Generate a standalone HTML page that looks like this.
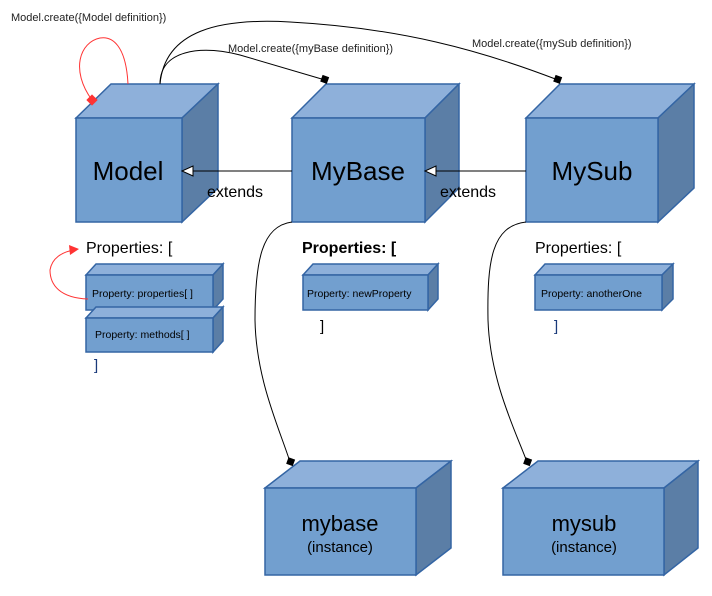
<!DOCTYPE html>
<html><head><meta charset="utf-8"><style>body{margin:0;background:#fff}svg{display:block}text{font-family:"Liberation Sans",sans-serif}</style></head><body>
<svg width="712" height="596" viewBox="0 0 712 596" xmlns="http://www.w3.org/2000/svg">
<g stroke="#3465a4" stroke-width="1.5" stroke-linejoin="miter">
<polygon points="76,118 111,84 218,84 182,118" fill="#8eb0da"/>
<polygon points="182,118 218,84 218,188 182,222" fill="#5b7ea6"/>
<rect x="76" y="118" width="106" height="104" fill="#729fcf"/>
<polygon points="292,118 326,84 459,84 425,118" fill="#8eb0da"/>
<polygon points="425,118 459,84 459,188 425,222" fill="#5b7ea6"/>
<rect x="292" y="118" width="133" height="104" fill="#729fcf"/>
<polygon points="526,118 560,84 694,84 658,118" fill="#8eb0da"/>
<polygon points="658,118 694,84 694,188 658,222" fill="#5b7ea6"/>
<rect x="526" y="118" width="132" height="104" fill="#729fcf"/>
<polygon points="265,488 300,461 451,461 416,488" fill="#8eb0da"/>
<polygon points="416,488 451,461 451,548 416,575" fill="#5b7ea6"/>
<rect x="265" y="488" width="151" height="87" fill="#729fcf"/>
<polygon points="503,488 538,461 698,461 664,488" fill="#8eb0da"/>
<polygon points="664,488 698,461 698,548 664,575" fill="#5b7ea6"/>
<rect x="503" y="488" width="161" height="87" fill="#729fcf"/>
<polygon points="86,275 96,264 223,264 213,275" fill="#8eb0da"/>
<polygon points="213,275 223,264 223,299 213,310" fill="#5b7ea6"/>
<rect x="86" y="275" width="127" height="35" fill="#729fcf"/>
<polygon points="86,318 96,307 223,307 213,318" fill="#8eb0da"/>
<polygon points="213,318 223,307 223,341 213,352" fill="#5b7ea6"/>
<rect x="86" y="318" width="127" height="34" fill="#729fcf"/>
<polygon points="303,275 313,264 438,264 428,275" fill="#8eb0da"/>
<polygon points="428,275 438,264 438,299 428,310" fill="#5b7ea6"/>
<rect x="303" y="275" width="125" height="35" fill="#729fcf"/>
<polygon points="535,275 545,264 673,264 662,275" fill="#8eb0da"/>
<polygon points="662,275 673,264 673,299 662,310" fill="#5b7ea6"/>
<rect x="535" y="275" width="127" height="35" fill="#729fcf"/>
</g>
<g fill="none" stroke="#000" stroke-width="1">
<path d="M160,84 C160,50 200,45 240,55 L325,80"/>
<path d="M160,84 C165,30 220,18 290,22 C400,28 480,50 558,80"/>
<path d="M292,222 C262,226 255,260 255,320 C256,380 280,430 290,462"/>
<path d="M526,222 C492,226 487,260 488,320 C490,380 515,430 527,462"/>
<path d="M292,171 L192,171"/>
<path d="M526,171 L434,171"/>
</g>
<polygon points="182,171 193,166 193,176" fill="#fff" stroke="#000"/>
<polygon points="425,171 436,166 436,176" fill="#fff" stroke="#000"/>
<rect x="321" y="76" width="7" height="7" fill="#000" transform="rotate(20 325 80)"/>
<rect x="554" y="76" width="7" height="7" fill="#000" transform="rotate(20 558 80)"/>
<rect x="287" y="458" width="7" height="7" fill="#000" transform="rotate(20 290 462)"/>
<rect x="524" y="458" width="7" height="7" fill="#000" transform="rotate(20 527 462)"/>
<g fill="none" stroke="#ff3333" stroke-width="1">
<path d="M128,84 C126,45 112,36 100,38 C80,42 70,70 92,100"/>
<path d="M88,299 C60,298 50,285 50,270 C52,258 62,252 74,250"/>
</g>
<rect x="88" y="96" width="8" height="8" fill="#ff3333" transform="rotate(45 92 100)"/>
<polygon points="79,249 69,245 70,255" fill="#ff3333"/>
<g fill="#000">
<text x="11" y="21" font-size="11" fill="#222">Model.create({Model definition})</text>
<text x="228" y="52" font-size="11" fill="#222">Model.create({myBase definition})</text>
<text x="472" y="47" font-size="11" fill="#222">Model.create({mySub definition})</text>
<text x="128" y="180" font-size="26" text-anchor="middle">Model</text>
<text x="358" y="180" font-size="26" text-anchor="middle">MyBase</text>
<text x="592" y="180" font-size="26" text-anchor="middle">MySub</text>
<text x="207" y="197" font-size="16">extends</text>
<text x="440" y="197" font-size="16">extends</text>
<text x="340" y="531" font-size="22" text-anchor="middle">mybase</text>
<text x="340" y="552" font-size="15" text-anchor="middle">(instance)</text>
<text x="584" y="531" font-size="22" text-anchor="middle">mysub</text>
<text x="584" y="552" font-size="15" text-anchor="middle">(instance)</text>
<text x="86" y="253" font-size="16">Properties: [</text>
<text x="302" y="253" font-size="16" font-weight="bold">Properties: [</text>
<text x="535" y="253" font-size="16">Properties: [</text>
<text x="92" y="297" font-size="10.5">Property: properties[ ]</text>
<text x="95" y="338" font-size="10.5">Property: methods[ ]</text>
<text x="307" y="297" font-size="10.5">Property: newProperty</text>
<text x="541" y="297" font-size="10.5">Property: anotherOne</text>
<text x="94" y="370" font-size="15" fill="#1a3a7a">]</text>
<text x="320" y="331" font-size="15">]</text>
<text x="554" y="331" font-size="15" fill="#1a3a7a">]</text>
</g>
</svg>
</body></html>
